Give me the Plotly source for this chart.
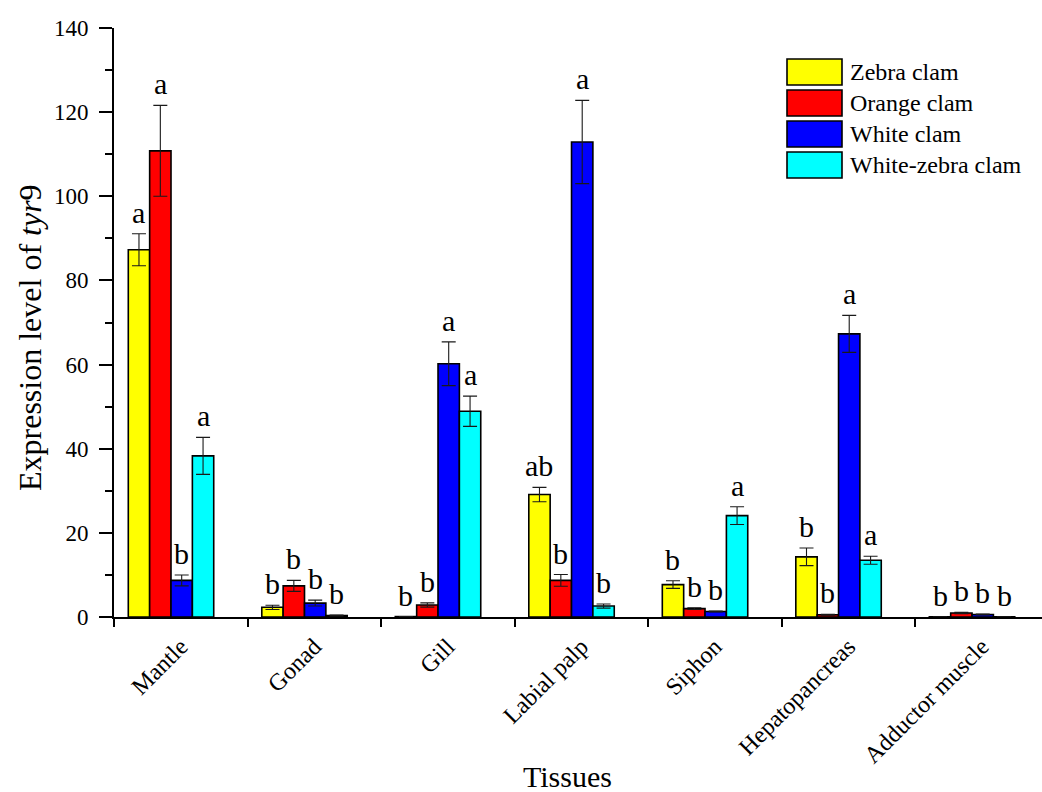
import plotly.graph_objects as go

tissues = ["Mantle", "Gonad", "Gill", "Labial palp", "Siphon", "Hepatopancreas", "Adductor muscle"]
series_names = ["Zebra clam", "Orange clam", "White clam", "White-zebra clam"]

zebra = [87.3, 2.3, 0.1, 29.1, 7.7, 14.3, 0.05]
zebra_err = [3.8, 0.5, 0.0, 1.7, 0.9, 2.1, 0.0]
orange = [110.8, 7.4, 2.85, 8.7, 2.0, 0.55, 0.95]
orange_err = [10.8, 1.3, 0.5, 1.4, 0.2, 0.1, 0.15]
white = [8.7, 3.3, 60.2, 112.9, 1.3, 67.3, 0.6]
white_err = [1.3, 0.7, 5.2, 9.9, 0.1, 4.4, 0.1]
white_zebra = [38.3, 0.35, 48.9, 2.6, 24.1, 13.5, 0.05]
white_zebra_err = [4.4, 0.1, 3.6, 0.5, 2.1, 0.95, 0.0]

zebra_sig = ["a", "b", "b", "ab", "b", "b", "b"]
orange_sig = ["a", "b", "b", "b", "b", "b", "b"]
white_sig = ["b", "b", "a", "a", "b", "a", "b"]
white_zebra_sig = ["a", "b", "a", "b", "a", "a", "b"]

colors = ["#FFFF00", "#FF0000", "#0000FF", "#00FFFF"]

values = [zebra, orange, white, white_zebra]
errors = [zebra_err, orange_err, white_err, white_zebra_err]
sigs = [zebra_sig, orange_sig, white_sig, white_zebra_sig]

FONT = "Times New Roman, Liberation Serif, serif"
W, H = 1042, 792
ML, MR, MT, MB = 114, 0, 28, 175

bar_w = 0.16
group_start = -0.393
xs = list(range(len(tissues)))

fig = go.Figure()
annotations = []
for k in range(4):
    off = group_start + k * bar_w
    fig.add_trace(go.Bar(
        x=xs, y=values[k], name=series_names[k],
        offset=off, width=bar_w,
        marker=dict(color=colors[k], line=dict(color="black", width=1.6)),
        error_y=dict(type="data", array=errors[k], color="#1a1a1a", thickness=1.1, width=7),
        showlegend=False, hoverinfo="skip",
    ))
    for i in xs:
        annotations.append(dict(
            x=i + off + bar_w / 2, y=values[k][i] + errors[k][i],
            xref="x", yref="y", text=sigs[k][i], showarrow=False,
            xanchor="center", yanchor="bottom", yshift=3,
            font=dict(family=FONT, size=30, color="black"),
        ))

# layout helpers: page pixels -> paper coords
pw = W - ML - MR
ph = H - MT - MB
def px2x(px):
    return (px - ML) / pw
def py2y(py):
    return (H - MB - py) / ph

shapes = []
for k, name in enumerate(series_names):
    top = 59 + k * 31
    shapes.append(dict(type="rect", xref="paper", yref="paper",
                       x0=px2x(787), x1=px2x(842), y0=py2y(top + 26), y1=py2y(top),
                       fillcolor=colors[k], line=dict(color="black", width=1.6)))
    annotations.append(dict(xref="paper", yref="paper", x=px2x(848), y=py2y(top + 13),
                            text=name, showarrow=False, xanchor="left", yanchor="middle",
                            font=dict(family=FONT, size=24, color="black")))

# axis titles
annotations.append(dict(xref="paper", yref="paper", x=px2x(30), y=py2y(338),
                        text="Expression level of <i>tyr</i>9", textangle=-90, showarrow=False,
                        xanchor="center", yanchor="middle",
                        font=dict(family=FONT, size=32, color="black")))
annotations.append(dict(xref="paper", yref="paper", x=px2x(567), y=py2y(777),
                        text="Tissues", showarrow=False,
                        xanchor="center", yanchor="middle",
                        font=dict(family=FONT, size=30, color="black")))

fig.update_layout(
    width=W, height=H,
    margin=dict(l=ML, r=MR, t=MT, b=MB, autoexpand=False),
    paper_bgcolor="white", plot_bgcolor="white",
    barmode="overlay",
    font=dict(family=FONT, color="black"),
    shapes=shapes, annotations=annotations,
    xaxis=dict(
        range=[-0.5, 6.451], tickmode="array", tickvals=xs, ticktext=tissues,
        tickangle=-45, ticks="outside", ticklen=4, tickcolor="rgba(0,0,0,0)",
        ticklabelstandoff=0,
        tickfont=dict(family=FONT, size=24, color="black"),
        showline=True, linecolor="black", linewidth=2, showgrid=False, zeroline=False,
        minor=dict(tickmode="array", tickvals=[i - 0.5 for i in range(8)],
                   ticks="outside", ticklen=8, tickwidth=2, tickcolor="black", showgrid=False),
    ),
    yaxis=dict(
        range=[0, 140], dtick=20, tick0=0, ticks="outside", ticklen=13, tickwidth=2,
        tickcolor="black", ticklabelstandoff=6,
        tickfont=dict(family=FONT, size=23, color="black"),
        showline=True, linecolor="black", linewidth=2, showgrid=False, zeroline=False,
        minor=dict(dtick=10, ticks="outside", ticklen=7, tickwidth=2, tickcolor="black", showgrid=False),
    ),
)

fig.write_html(
    "out.html",
    config={"displayModeBar": False},
    post_script="document.body.style.margin='0';document.body.style.overflow='hidden';",
)
